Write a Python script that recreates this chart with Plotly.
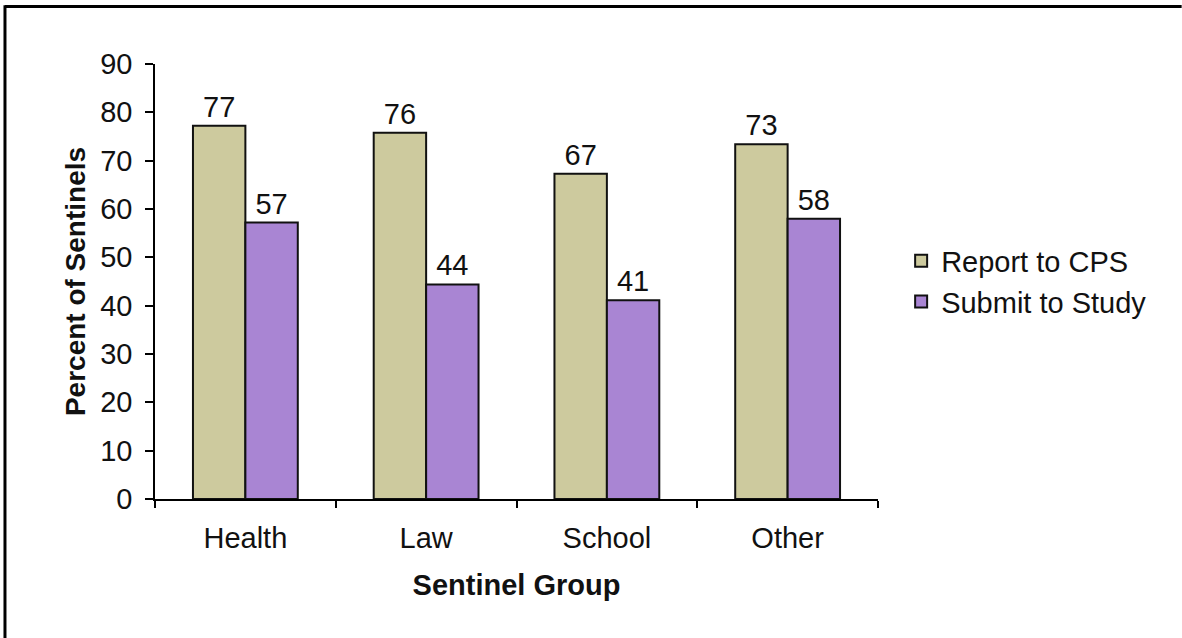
import plotly.graph_objects as go

categories = ["Health", "Law", "School", "Other"]
report_to_cps = [77.2, 75.8, 67.3, 73.4]
submit_to_study = [57.2, 44.4, 41.1, 58.0]
y_ticks = [0, 10, 20, 30, 40, 50, 60, 70, 80, 90]

FONT = "Liberation Sans, Arial, sans-serif"
FS = 29

fig = go.Figure()
fig.add_trace(go.Bar(
    name="Report to CPS", x=categories, y=report_to_cps,
    marker=dict(color="#cdca9e", line=dict(color="#111111", width=2)),
    text=report_to_cps, texttemplate="%{y:.0f}", textposition="outside",
    textfont=dict(size=FS, color="#111111", family=FONT), cliponaxis=False,
))
fig.add_trace(go.Bar(
    name="Submit to Study", x=categories, y=submit_to_study,
    marker=dict(color="#a985d3", line=dict(color="#111111", width=2)),
    text=submit_to_study, texttemplate="%{y:.0f}", textposition="outside",
    textfont=dict(size=FS, color="#111111", family=FONT), cliponaxis=False,
))

fig.update_layout(
    width=1182, height=638,
    margin=dict(l=155, r=304, t=64, b=139),
    paper_bgcolor="white", plot_bgcolor="white",
    font=dict(family=FONT, size=FS, color="#111111"),
    barmode="group", bargap=0.42, bargroupgap=0,
    showlegend=True,
    legend=dict(x=1.032, y=0.50, xanchor="left", yanchor="middle",
                font=dict(size=FS), itemwidth=30, tracegroupgap=0,
                bgcolor="rgba(0,0,0,0)"),
    shapes=[
        dict(type="line", xref="paper", yref="paper",
             x0=-0.2075, x1=1.42, y0=1.132, y1=1.132,
             line=dict(color="black", width=3)),
        dict(type="line", xref="paper", yref="paper",
             x0=-0.2075, x1=-0.2075, y0=1.135, y1=-0.32,
             line=dict(color="black", width=3)),
    ],
)
fig.update_xaxes(
    showline=True, linecolor="black", linewidth=1.5,
    ticks="outside", ticklen=7, tickcolor="black", tickwidth=1.5,
    tickson="boundaries", ticklabelstandoff=12,
    title=dict(text="<b>Sentinel Group</b>", font=dict(size=29), standoff=22),
    showgrid=False,
)
fig.update_yaxes(
    range=[0, 90], tickvals=y_ticks, showline=True, linecolor="black", linewidth=1.5,
    ticks="outside", ticklen=8, tickcolor="black", tickwidth=1.5,
    ticklabelstandoff=7, showgrid=False, zeroline=False,
    title=dict(text="<b>Percent of Sentinels</b>", font=dict(size=28), standoff=6),
)

fig.write_html("out.html", config={"displayModeBar": False},
               post_script="document.body.style.margin='0';")
